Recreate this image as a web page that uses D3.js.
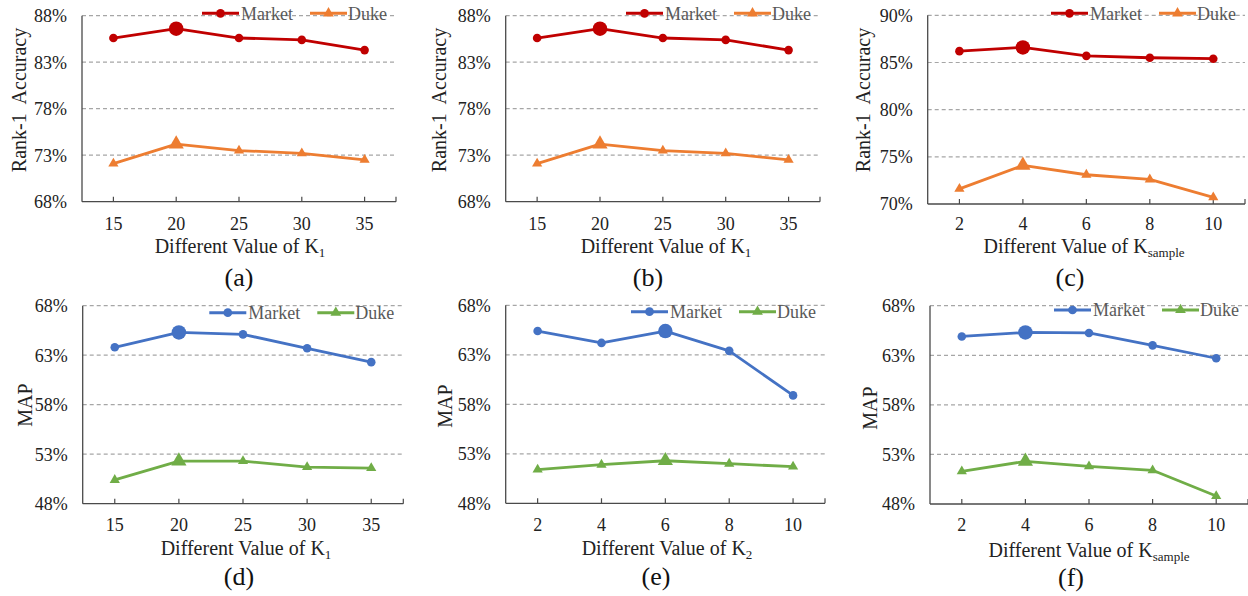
<!DOCTYPE html>
<html>
<head>
<meta charset="utf-8">
<script src="https://cdn.jsdelivr.net/npm/d3@7"></script>
<style>
  html, body { margin: 0; padding: 0; background: #fff; }
  svg { display: block; }
  svg text { font-family: "Liberation Serif", "Times New Roman", serif; }
</style>
</head>
<body>
<svg id="chart" width="1248" height="596"></svg>
<script>
// ---------------- data ----------------
const catsK1 = [15, 20, 25, 30, 35];
const catsSmall = [2, 4, 6, 8, 10];

const ticksRankAB = [68, 73, 78, 83, 88];
const ticksRankC = [70, 75, 80, 85, 90];
const ticksMAP = [48, 53, 58, 63, 68];

const aMarket = [85.6, 86.6, 85.6, 85.4, 84.3];
const aDuke = [72.1, 74.2, 73.5, 73.2, 72.5];
const bMarket = [85.6, 86.6, 85.6, 85.4, 84.3];
const bDuke = [72.1, 74.2, 73.5, 73.2, 72.5];
const cMarket = [86.2, 86.6, 85.7, 85.5, 85.4];
const cDuke = [71.6, 74.1, 73.1, 72.6, 70.7];
const dMarket = [63.8, 65.3, 65.1, 63.7, 62.3];
const dDuke = [50.4, 52.3, 52.3, 51.7, 51.6];
const eMarket = [65.4, 64.2, 65.4, 63.4, 58.9];
const eDuke = [51.4, 51.9, 52.3, 52.0, 51.7];
const fMarket = [64.9, 65.3, 65.25, 64.0, 62.7];
const fDuke = [51.3, 52.3, 51.8, 51.4, 48.8];

const seriesNames = ["Market", "Duke"];
const panelLabels = ["(a)", "(b)", "(c)", "(d)", "(e)", "(f)"];
const yTitles = ["Rank-1  Accuracy", "Rank-1  Accuracy", "Rank-1  Accuracy", "MAP", "MAP", "MAP"];
const xSubs = ["1", "1", "sample", "1", "2", "sample"];
const highlightIdx = [1, 1, 1, 1, 2, 1];

// ---------------- layout ----------------
const RED = "#C00000", ORANGE = "#ED7D31", BLUE = "#4472C4", GREEN = "#70AD47";
const FONT = "'Liberation Serif', 'Times New Roman', serif";

const panels = [
  { cats: catsK1, ticks: ticksRankAB, s1: aMarket, s2: aDuke, c1: RED, c2: ORANGE,
    L: 82, R: 396, T: 15.7, B: 201.7, ylx: 19, yly: 100, xtx: 240, xty: 253, xlb: 230, plx: 239, ply: 286, legY: 13.3 },
  { cats: catsK1, ticks: ticksRankAB, s1: bMarket, s2: bDuke, c1: RED, c2: ORANGE,
    L: 505.7, R: 820, T: 15.7, B: 201.7, ylx: 439, yly: 100, xtx: 666, xty: 253, xlb: 230, plx: 648, ply: 286, legY: 13.3 },
  { cats: catsSmall, ticks: ticksRankC, s1: cMarket, s2: cDuke, c1: RED, c2: ORANGE,
    L: 927.7, R: 1245, T: 15.3, B: 204, ylx: 863, yly: 100, xtx: 1084, xty: 253, xlb: 230, plx: 1070, ply: 286, legY: 13.3 },
  { cats: catsK1, ticks: ticksMAP, s1: dMarket, s2: dDuke, c1: BLUE, c2: GREEN,
    L: 82.7, R: 403.3, T: 305.7, B: 503.7, ylx: 25, yly: 405, xtx: 246, xty: 555, xlb: 531, plx: 239, ply: 585, legY: 312.7 },
  { cats: catsSmall, ticks: ticksMAP, s1: eMarket, s2: eDuke, c1: BLUE, c2: GREEN,
    L: 505.7, R: 825, T: 305.3, B: 503.3, ylx: 445, yly: 406, xtx: 667, xty: 555, xlb: 531, plx: 656, ply: 585, legY: 311.7 },
  { cats: catsSmall, ticks: ticksMAP, s1: fMarket, s2: fDuke, c1: BLUE, c2: GREEN,
    L: 930, R: 1248, T: 305.7, B: 504, ylx: 870, yly: 408, xtx: 1089, xty: 557, xlb: 531, plx: 1071, ply: 586, legY: 310 }
];

const svg = d3.select("#chart");
const AXIS = "#4a4a4a", GRID = "#a6a6a6";

panels.forEach((p, i) => {
  const g = svg.append("g");
  const x = d3.scalePoint().domain(p.cats).range([p.L, p.R]).padding(0.5);
  const y = d3.scaleLinear().domain([p.ticks[0], p.ticks[p.ticks.length - 1]]).range([p.B, p.T]);

  // gridlines (dashed), except bottom
  g.selectAll("line.grid").data(p.ticks.slice(1)).enter().append("line")
    .attr("x1", p.L).attr("x2", p.R)
    .attr("y1", d => y(d)).attr("y2", d => y(d))
    .attr("stroke", GRID).attr("stroke-width", 1.2).attr("stroke-dasharray", "4,3");

  // y tick labels
  g.selectAll("text.yt").data(p.ticks).enter().append("text")
    .attr("font-family", FONT)
    .attr("x", p.L - 15).attr("y", d => y(d)).attr("dy", "0.35em")
    .attr("text-anchor", "end").attr("font-size", 18).attr("fill", "#222")
    .text(d => d + "%");

  // axes
  g.append("line").attr("x1", p.L).attr("x2", p.L).attr("y1", y.range()[1]).attr("y2", p.B)
    .attr("stroke", AXIS).attr("stroke-width", 1.3);
  g.append("line").attr("x1", p.L).attr("x2", p.R).attr("y1", p.B).attr("y2", p.B)
    .attr("stroke", AXIS).attr("stroke-width", 1.3);
  const tickXs = p.cats.map(c => x(c)).concat([p.R]);
  g.selectAll("line.xt").data(tickXs).enter().append("line")
    .attr("x1", d => d).attr("x2", d => d).attr("y1", p.B).attr("y2", p.B - 5)
    .attr("stroke", AXIS).attr("stroke-width", 1.2);

  // x tick labels
  g.selectAll("text.xt").data(p.cats).enter().append("text")
    .attr("font-family", FONT)
    .attr("x", d => x(d)).attr("y", p.xlb)
    .attr("text-anchor", "middle").attr("font-size", 18).attr("fill", "#222")
    .text(d => d);

  // x title
  const xt = g.append("text").attr("font-family", FONT).attr("x", p.xtx).attr("y", p.xty).attr("text-anchor", "middle")
    .attr("font-size", 20).attr("fill", "#222");
  xt.append("tspan").text("Different Value of K");
  xt.append("tspan").attr("font-size", 13).attr("dy", 4).text(xSubs[i]);

  // y title
  g.append("text").attr("font-family", FONT).attr("transform", `translate(${p.ylx},${p.yly}) rotate(-90)`)
    .attr("text-anchor", "middle").attr("dy", "0.35em").attr("font-size", 20).attr("fill", "#222")
    .style("white-space", "pre")
    .text(yTitles[i]);

  // panel label
  g.append("text").attr("font-family", FONT).attr("x", p.plx).attr("y", p.ply).attr("text-anchor", "middle")
    .attr("font-size", 26).attr("fill", "#111").text(panelLabels[i]);

  // series
  const line = d3.line().x((d, j) => x(p.cats[j])).y(d => y(d));
  [[p.s1, p.c1, "circle"], [p.s2, p.c2, "triangle"]].forEach(([vals, col, shape]) => {
    g.append("path").datum(vals).attr("d", line)
      .attr("fill", "none").attr("stroke", col).attr("stroke-width", 2.8).attr("stroke-linejoin", "round");
    g.selectAll(null).data(vals).enter().append("path")
      .attr("transform", (d, j) => `translate(${x(p.cats[j])},${y(d)})`)
      .attr("d", (d, j) => {
        const big = j === highlightIdx[i];
        if (shape === "circle") return d3.symbol(d3.symbolCircle, big ? 165 : 58)();
        return d3.symbol(d3.symbolTriangle, big ? 100 : 45)();
      })
      .attr("fill", col);
  });

  // legend (anchored to right edge)
  const lg = g.append("g");
  const R = p.R;
  const items = [
    { name: seriesNames[0], col: p.c1, shape: "circle", x0: R - 194, x1: R - 157, tx: R - 155 },
    { name: seriesNames[1], col: p.c2, shape: "triangle", x0: R - 86, x1: R - 49, tx: R - 48 }
  ];
  items.forEach(it => {
    lg.append("line").attr("x1", it.x0).attr("x2", it.x1).attr("y1", p.legY).attr("y2", p.legY)
      .attr("stroke", it.col).attr("stroke-width", 3);
    lg.append("path").attr("transform", `translate(${(it.x0 + it.x1) / 2},${p.legY})`)
      .attr("d", d3.symbol(it.shape === "circle" ? d3.symbolCircle : d3.symbolTriangle, it.shape === "circle" ? 60 : 50)())
      .attr("fill", it.col);
    lg.append("text").attr("font-family", FONT).attr("x", it.tx).attr("y", p.legY).attr("dy", "0.35em")
      .attr("font-size", 18).attr("fill", "#595959").text(it.name);
  });
});
</script>
</body>
</html>
